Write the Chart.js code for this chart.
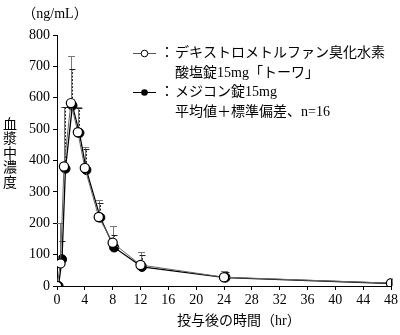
<!DOCTYPE html>
<html>
<head>
<meta charset="utf-8">
<script src="https://cdn.jsdelivr.net/npm/chart.js@4"></script>
<style>
  html, body { margin: 0; padding: 0; background: #fff; }
  #wrap { width: 400px; height: 335px; position: relative; }
</style>
</head>
<body>
<div id="wrap"><canvas id="pkChart"></canvas></div>
<script>
// sampling times (hr)
const hours = [0, 0.5, 1, 2, 3, 4, 6, 8, 12, 24, 48];
// mean plasma concentration (ng/mL)
const towaMean = [0, 72, 381, 583, 490, 376, 220, 138, 67, 28, 9];
const medicoMean = [0, 85, 374, 575, 488, 370, 218, 123, 61, 27, 8];
// mean + SD (upper bar end)
const towaUpper = [null, 202, 572, 734, 572, 442, 273, 191, 107, 49, null];
const medicoUpper = [null, 143, 570, 692, 568, 437, 266, 164, 99, 45, null];

const yTicks = [0, 100, 200, 300, 400, 500, 600, 700, 800];
const xTicks = [0, 4, 8, 12, 16, 20, 24, 28, 32, 36, 40, 44, 48];

const FONT = '"Liberation Serif", "Noto Sans CJK JP", serif';
const SHIFT = 1.5; // medicon drawn slightly right so both markers show

function toXY(xs, ys) {
    return xs.map((x, i) => ({ x: x, y: ys[i] }));
}

// upper SD bars, drawn under the markers
const errorBars = {
    id: 'errorBars',
    beforeDatasetsDraw(chart) {
        const ctx = chart.ctx;
        const xs = chart.scales.x, ys = chart.scales.y;
        const sets = [
            { mean: towaMean, top: towaUpper, color: '#777', dash: [], cap: 3.5, dx: 0 },
            { mean: medicoMean, top: medicoUpper, color: '#222', dash: [2, 1.5], cap: 3, dx: SHIFT }
        ];
        ctx.save();
        sets.forEach(s => {
            ctx.strokeStyle = s.color;
            ctx.lineWidth = 1;
            hours.forEach((h, i) => {
                if (s.top[i] == null) return;
                const px = Math.round(xs.getPixelForValue(h) + s.dx) + 0.5;
                const y0 = ys.getPixelForValue(s.mean[i]);
                const y1 = Math.round(ys.getPixelForValue(s.top[i])) + 0.5;
                ctx.setLineDash(s.dash);
                ctx.beginPath();
                ctx.moveTo(px, y0);
                ctx.lineTo(px, y1);
                ctx.stroke();
                ctx.setLineDash([]);
                ctx.beginPath();
                ctx.moveTo(px - s.cap, y1);
                ctx.lineTo(px + s.cap, y1);
                ctx.stroke();
            });
        });
        ctx.restore();
    }
};

const shiftSecond = {
    id: 'shiftSecond',
    beforeDatasetDraw(chart, args) {
        if (args.index === 1) {
            chart.ctx.save();
            chart.ctx.translate(SHIFT, 0);
        }
    },
    afterDatasetDraw(chart, args) {
        if (args.index === 1) chart.ctx.restore();
    }
};

// unit, axis titles and the legend block
const labels = {
    id: 'labels',
    afterDraw(chart) {
        const ctx = chart.ctx;
        ctx.save();
        ctx.fillStyle = '#000';
        ctx.font = '14px ' + FONT;
        ctx.textBaseline = 'middle';
        ctx.textAlign = 'center';
        ctx.fillText('（ng/mL）', 55, 14);

        const yTitle = '血漿中濃度';
        for (let i = 0; i < yTitle.length; i++) {
            ctx.fillText(yTitle[i], 10, 125 + i * 14.5);
        }

        ctx.textAlign = 'left';
        ctx.fillText('投与後の時間（hr）', 177, 321);

        // legend
        const lx0 = 133, lx1 = 156, cx = 144.5;
        ctx.lineWidth = 1;
        ctx.strokeStyle = '#555';
        ctx.beginPath(); ctx.moveTo(lx0, 53.5); ctx.lineTo(lx1, 53.5); ctx.stroke();
        ctx.beginPath(); ctx.arc(cx, 53.5, 3.3, 0, Math.PI * 2);
        ctx.fillStyle = '#fff'; ctx.fill();
        ctx.strokeStyle = '#000'; ctx.stroke();

        ctx.strokeStyle = '#000';
        ctx.beginPath(); ctx.moveTo(lx0, 92.5); ctx.lineTo(lx1, 92.5); ctx.stroke();
        ctx.beginPath(); ctx.arc(cx, 92.5, 3.3, 0, Math.PI * 2);
        ctx.fillStyle = '#000'; ctx.fill();

        ctx.fillStyle = '#000';
        ctx.fillText('：', 160, 53);
        ctx.fillText('デキストロメトルファン臭化水素', 175, 53);
        ctx.fillText('酸塩錠15mg「トーワ」', 175, 73);
        ctx.fillText('：', 160, 92);
        ctx.fillText('メジコン錠15mg', 175, 92);
        ctx.fillText('平均値＋標準偏差、n=16', 175, 112);
        ctx.restore();
    }
};

const ctx = document.getElementById('pkChart').getContext('2d');
new Chart(ctx, {
    type: 'line',
    data: {
        datasets: [
            {
                label: 'デキストロメトルファン臭化水素酸塩錠15mg「トーワ」',
                data: toXY(hours, towaMean),
                borderColor: '#666',
                borderWidth: 1,
                pointRadius: 4.6,
                pointBackgroundColor: '#fff',
                pointBorderColor: '#000',
                pointBorderWidth: 1.2,
                tension: 0,
                order: 0
            },
            {
                label: 'メジコン錠15mg',
                data: toXY(hours, medicoMean),
                borderColor: '#000',
                borderWidth: 1.3,
                pointRadius: 4.6,
                pointBackgroundColor: '#000',
                pointBorderColor: '#000',
                pointBorderWidth: 1,
                tension: 0,
                order: 1
            }
        ]
    },
    options: {
        responsive: true,
        maintainAspectRatio: false,
        animation: false,
        layout: { padding: { left: 0, right: 7, top: 35, bottom: 0 } },
        plugins: {
            legend: { display: false },
            tooltip: { enabled: false }
        },
        scales: {
            x: {
                type: 'linear',
                min: 0,
                max: 48,
                afterBuildTicks: s => { s.ticks = xTicks.map(v => ({ value: v })); },
                afterFit: s => { s.height = 49; },
                grid: { drawOnChartArea: false, drawTicks: true, tickLength: 4, color: '#000' },
                border: { color: '#000', width: 1 },
                ticks: { color: '#000', padding: 2, maxRotation: 0, font: { family: FONT, size: 14 } }
            },
            y: {
                min: 0,
                max: 800,
                afterBuildTicks: s => { s.ticks = yTicks.map(v => ({ value: v })); },
                afterFit: s => { s.width = 57; },
                grid: { drawOnChartArea: false, drawTicks: true, tickLength: 4, color: '#000' },
                border: { color: '#000', width: 1 },
                ticks: { color: '#000', padding: 3, font: { family: FONT, size: 14 } }
            }
        }
    },
    plugins: [errorBars, shiftSecond, labels]
});
</script>
</body>
</html>
